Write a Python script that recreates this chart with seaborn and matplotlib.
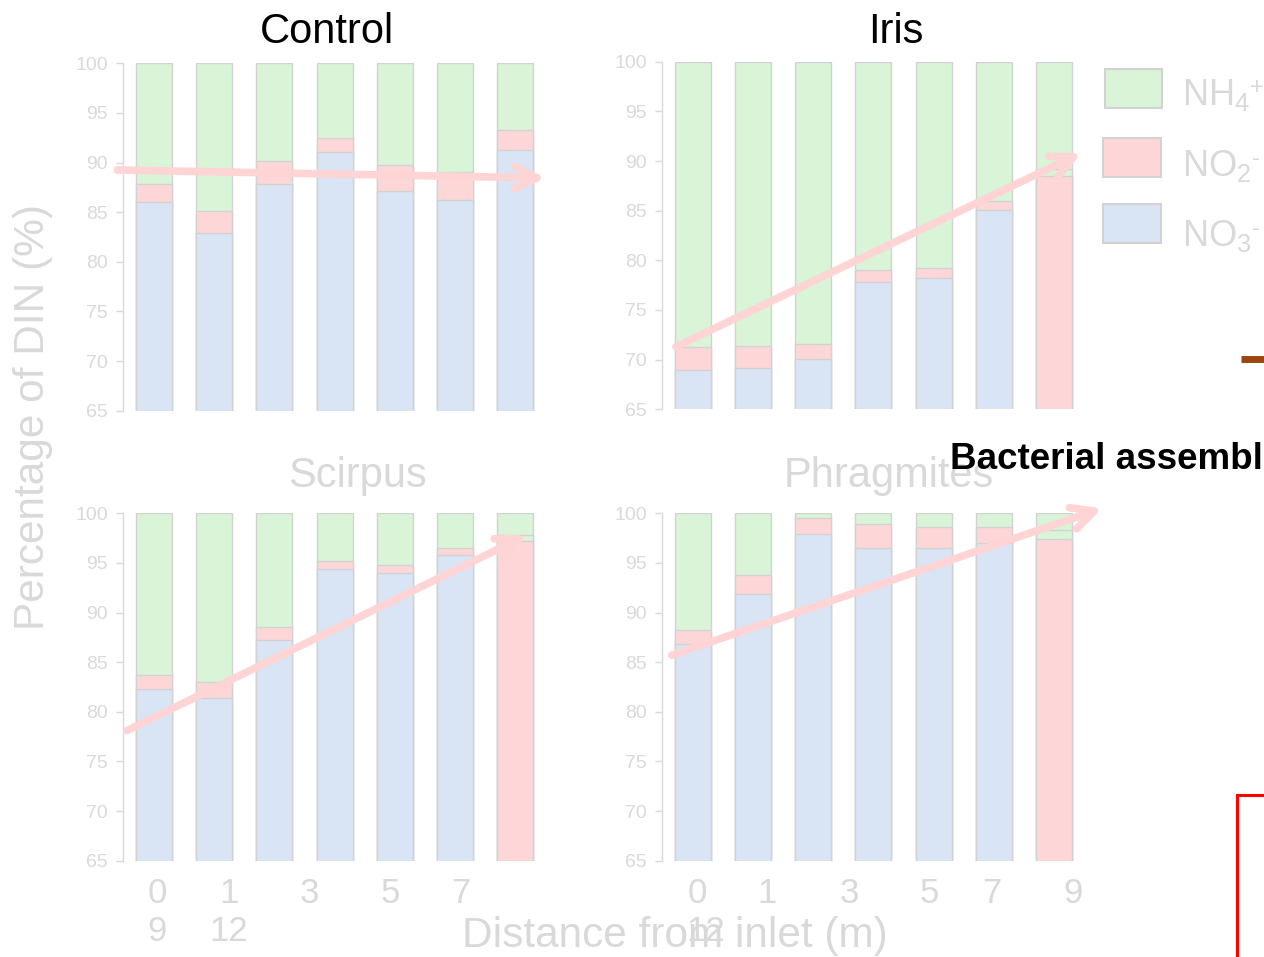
import numpy as np
import pandas as pd
import matplotlib
matplotlib.use("Agg")
import matplotlib.pyplot as plt
import seaborn as sns
from matplotlib.patches import Rectangle
from matplotlib.lines import Line2D

# ---------------- data ----------------
panels = ["Control", "Iris", "Scirpus", "Phragmites"]
distances = ["0", "1", "3", "5", "7", "9", "12"]

no3_control = [86.0, 82.9, 87.8, 91.1, 87.1, 86.2, 91.3]
no2_control = [1.8, 2.2, 2.4, 1.4, 2.7, 2.8, 2.0]
nh4_control = [12.2, 14.9, 9.8, 7.5, 10.2, 11.0, 6.7]

no3_iris = [69.0, 69.2, 70.1, 77.8, 78.2, 85.1, 88.5]
no2_iris = [2.3, 2.2, 1.5, 1.2, 1.0, 0.9, 0.7]
nh4_iris = [28.7, 28.6, 28.4, 21.0, 20.8, 14.0, 10.8]

no3_scirpus = [82.3, 81.4, 87.2, 94.4, 94.0, 95.8, 97.2]
no2_scirpus = [1.4, 1.6, 1.3, 0.8, 0.8, 0.7, 0.6]
nh4_scirpus = [16.3, 17.0, 11.5, 4.8, 5.2, 3.5, 2.2]

no3_phrag = [86.8, 91.9, 97.9, 96.5, 96.5, 97.0, 97.4]
no2_phrag = [1.4, 1.9, 1.6, 2.4, 2.1, 1.6, 0.9]
nh4_phrag = [11.8, 6.2, 0.5, 1.1, 1.4, 1.4, 1.7]

species_labels = ["NH$_4$", "NO$_2$", "NO$_3$"]
species_charges = ["+", "-", "-"]

# ---------------- style ----------------
sns.set_style("white")
plt.rcParams["font.family"] = ["Liberation Sans", "DejaVu Sans"]
plt.rcParams["mathtext.fontset"] = "custom"
plt.rcParams["mathtext.rm"] = "Liberation Sans"
plt.rcParams["mathtext.it"] = "Liberation Sans:italic"
plt.rcParams["mathtext.bf"] = "Liberation Sans:bold"
plt.rcParams["mathtext.default"] = "regular"

GRAY = "#d9d9d9"
C_NH4 = "#d9f4d7"
C_NO2 = "#fdd7d7"
C_NO3 = "#d9e5f4"
EDGE = "#d2d2d2"
ARROW = "#ffd4d4"

W, H = 1264, 957
fig = plt.figure(figsize=(W / 100, H / 100), dpi=100)

def fx(px):
    return px / W

def fy(py):
    return 1 - py / H

# axes placements (pixel): left, x of first bar center, top(100), bottom(65)
layout = {
    "Control": (123.0, 154.0, 63.3, 410.7),
    "Iris": (662.3, 692.8, 61.7, 409.3),
    "Scirpus": (123.3, 154.0, 513.3, 860.7),
    "Phragmites": (662.3, 692.8, 513.3, 860.7),
}
spacing = 60.2

datasets = {
    "Control": (no3_control, no2_control, nh4_control),
    "Iris": (no3_iris, no2_iris, nh4_iris),
    "Scirpus": (no3_scirpus, no2_scirpus, nh4_scirpus),
    "Phragmites": (no3_phrag, no2_phrag, nh4_phrag),
}
highlight_last = {"Control": False, "Iris": True, "Scirpus": True, "Phragmites": True}

arrows = {
    "Control": ((-0.61, 89.25), (6.5, 88.44)),
    "Iris": ((-0.28, 71.3), (6.45, 90.8)),
    "Scirpus": ((-0.45, 78.1), (6.19, 97.8)),
    "Phragmites": ((-0.35, 85.7), (6.8, 100.5)),
}

for name in panels:
    left_px, c0_px, top_px, bot_px = layout[name]
    x0 = -(c0_px - left_px) / spacing
    x1 = 6.5
    right_px = c0_px + x1 * spacing
    ax = fig.add_axes([fx(left_px), fy(bot_px), (right_px - left_px) / W,
                       (bot_px - top_px) / H])
    no3, no2, nh4 = datasets[name]
    df = pd.DataFrame({"dist": distances, "no3": no3, "no2": no2, "nh4": nh4})
    df["total"] = df["no3"] + df["no2"] + df["nh4"]
    df["no3no2"] = df["no3"] + df["no2"]
    for col, colr in [("total", C_NH4), ("no3no2", C_NO2), ("no3", C_NO3)]:
        sns.barplot(data=df, x="dist", y=col, order=distances, color=colr,
                    saturation=1, width=0.6, edgecolor=EDGE, linewidth=1,
                    ax=ax, errorbar=None)
    n = len(distances)
    if highlight_last[name]:
        ax.patches[2 * n - 1].set_facecolor(C_NH4)
        ax.patches[3 * n - 1].set_facecolor(C_NO2)
    ax.set_xlim(x0, x1)
    ax.set_ylim(65, 100)
    ax.set_yticks([65, 70, 75, 80, 85, 90, 95, 100])
    ax.set_xticks([])
    ax.set_xlabel("")
    ax.set_ylabel("")
    for s in ["top", "right", "bottom"]:
        ax.spines[s].set_visible(False)
    ax.spines["left"].set_color(GRAY)
    ax.spines["left"].set_linewidth(1)
    ax.tick_params(axis="y", left=True, length=5, width=1, color=GRAY,
                   labelcolor=GRAY, labelsize=14, pad=6)
    ax.patch.set_alpha(0)
    (tx, ty), (hx, hy) = arrows[name]
    ax.annotate("", xy=(hx, hy), xytext=(tx, ty), annotation_clip=False,
                arrowprops=dict(arrowstyle="->", color=ARROW, lw=5.5,
                                mutation_scale=40, shrinkA=0, shrinkB=0),
                zorder=6)

# titles
fig.text(fx(327), fy(43), "Control", ha="center", va="baseline", fontsize=30, color="black")
fig.text(fx(896), fy(43), "Iris", ha="center", va="baseline", fontsize=30, color="black")
fig.text(fx(357), fy(487), "Scirpus", ha="center", va="baseline", fontsize=30, color=GRAY)
fig.text(fx(889), fy(487), "Phragmites", ha="center", va="baseline", fontsize=30, color=GRAY)

# overlaid slide heading
fig.text(fx(950), fy(469), "Bacterial assembl", ha="left", va="baseline",
         fontsize=26.5, fontweight="bold", color="black")

# axis labels
fig.text(fx(33), fy(417), "Percentage of DIN (%)", rotation=90, ha="center",
         va="center", fontsize=30.5, color=GRAY)
fig.text(fx(675), fy(947), "Distance from inlet (m)", ha="center", va="baseline",
         fontsize=30.5, color=GRAY)

# distance labels (wrapped as in the slide)
left_row1 = [157, 229, 309, 390, 461]
for lab, px in zip(distances[:5], left_row1):
    fig.text(fx(px), fy(903), lab, ha="center", va="baseline", fontsize=25, color=GRAY)
for lab, px in zip(distances[5:], [157, 229]):
    fig.text(fx(px), fy(941), lab, ha="center", va="baseline", fontsize=25, color=GRAY)
right_row1 = [697, 767, 849, 929, 992, 1073]
for lab, px in zip(distances[:6], right_row1):
    fig.text(fx(px), fy(903), lab, ha="center", va="baseline", fontsize=25, color=GRAY)
fig.text(fx(706), fy(941), distances[6], ha="center", va="baseline", fontsize=25, color=GRAY)

# legend (manual, as in the slide)
leg_boxes = [(1105, 69, 57, 39, C_NH4), (1103, 138, 58, 39, C_NO2), (1103, 204, 58, 39, C_NO3)]
leg_base = [105, 176, 246]
charge_pos = [(1250, 94), (1252, 165), (1252, 235)]
for (bx, by, bw, bh, bc), lab, chg, base, (cx, cy) in zip(
        leg_boxes, species_labels, species_charges, leg_base, charge_pos):
    fig.patches.append(Rectangle((fx(bx), fy(by + bh)), bw / W, bh / H,
                                 transform=fig.transFigure, facecolor=bc,
                                 edgecolor=EDGE, linewidth=1.5))
    fig.text(fx(1182), fy(base), lab, ha="left", va="baseline", fontsize=26, color=GRAY)
    fig.text(fx(cx), fy(cy), chg, ha="left", va="baseline", fontsize=17, color=GRAY)

# small slide decorations
fig.lines.append(Line2D([fx(1241), fx(1264)], [fy(358.5), fy(358.5)],
                        transform=fig.transFigure, color="#9a460c", linewidth=5,
                        solid_capstyle="butt"))
fig.lines.append(Line2D([fx(1237), fx(1237), fx(1264)], [fy(957), fy(795), fy(795)],
                        transform=fig.transFigure, color="#ff0000", linewidth=2.2,
                        solid_capstyle="butt", solid_joinstyle="miter"))

fig.savefig("out.png", dpi=100)
